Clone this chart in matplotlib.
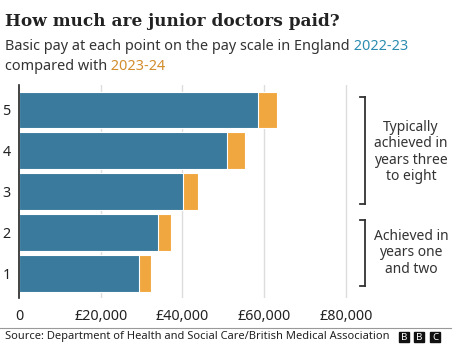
import matplotlib.pyplot as plt
from matplotlib.patches import Rectangle

# pay points and basic pay (GBP)
points = [1, 2, 3, 4, 5]
pay_2022 = [29384, 34012, 40257, 51017, 58398]
pay_2023 = [32398, 37303, 43923, 55329, 63152]
ticks = [0, 20000, 40000, 60000, 80000]
tick_labels = ["0", "£20,000", "£40,000", "£60,000", "£80,000"]

blue = "#3a7a9c"
orange = "#f1a73f"
W, H = 460, 357

plt.rcParams['font.family'] = ['Noto Sans', 'DejaVu Sans']
fig = plt.figure(figsize=(W / 100, H / 100), dpi=100)

def fx(px):
    return px / W

def fy(py):
    return 1 - py / H

# axes: x=0 at px 19, top 85, bottom 298
ax = fig.add_axes([fx(19), fy(298), fx(450 - 19), (298 - 85) / H])
px_per_20k = 81.7
ax.set_xlim(0, (450 - 19) / px_per_20k * 20000)
ax.set_ylim(0.4, 5.61)

ax.barh(points, pay_2023, height=0.9, color=orange, edgecolor="white", linewidth=0.8, zorder=2)
ax.barh(points, pay_2022, height=0.9, color=blue, edgecolor="white", linewidth=0.8, zorder=3)

ax.set_xticks(ticks)
ax.set_xticklabels(tick_labels, fontsize=10.3, color="#222222")
ax.set_yticks(points)
ax.set_yticklabels([str(p) for p in points], fontsize=10.3, color="#222222")
ax.tick_params(length=0, pad=6)
ax.tick_params(axis="x", pad=8)
for x in ticks[1:]:
    ax.axvline(x, color="#dddddd", linewidth=1, zorder=1)
for s in ["top", "right", "bottom"]:
    ax.spines[s].set_visible(False)
ax.spines["left"].set_color("#222222")
ax.spines["left"].set_linewidth(1.2)
ax.spines["left"].set_zorder(4)

# brackets and notes
def bracket(y_top, y_bot, lines, ty):
    x = fx(365)
    fig.add_artist(plt.Line2D([x, x], [fy(y_top), fy(y_bot)], color="#333333", lw=1.3))
    for yy in (y_top, y_bot):
        fig.add_artist(plt.Line2D([x - fx(5), x], [fy(yy), fy(yy)], color="#333333", lw=1.3))
    fig.text(fx(411), fy(ty), "\n".join(lines), ha="center", va="center",
             fontsize=10, color="#333333", linespacing=1.15)

bracket(97, 204, ["Typically", "achieved in", "years three", "to eight"], 152)
bracket(220, 286, ["Achieved in", "years one", "and two"], 253)

# titles
fig.text(fx(5), fy(22), "How much are junior doctors paid?", fontsize=12.2,
         fontweight="bold", family="DejaVu Serif", color="#222222", va="center")
t1 = fig.text(fx(5), fy(46), "Basic pay at each point on the pay scale in England",
              fontsize=10.4, color="#333333", va="center")
ax.annotate(" 2022-23", xy=(1, 0), xycoords=t1, fontsize=10.4, color="#2b8cb0",
            va="bottom", ha="left", annotation_clip=False)
t2 = fig.text(fx(5), fy(66), "compared with", fontsize=10.4, color="#333333", va="center")
ax.annotate(" 2023-24", xy=(1, 0), xycoords=t2, fontsize=10.4, color="#d28c2c",
            va="bottom", ha="left", annotation_clip=False)

# footer
fig.add_artist(plt.Line2D([0, fx(451)], [fy(328), fy(328)], color="#999999", lw=0.8))
fig.text(fx(5), fy(337), "Source: Department of Health and Social Care/British Medical Association",
         fontsize=8, color="#222222", va="center")
for i, ch in enumerate("BBC"):
    x0 = 399 + i * 15.5
    fig.add_artist(Rectangle((fx(x0), fy(342)), fx(10), 10 / H, color="#111111"))
    fig.text(fx(x0 + 5), fy(337), ch, fontsize=7, fontweight="bold", color="white",
             ha="center", va="center")

fig.savefig("out.png", dpi=100)
